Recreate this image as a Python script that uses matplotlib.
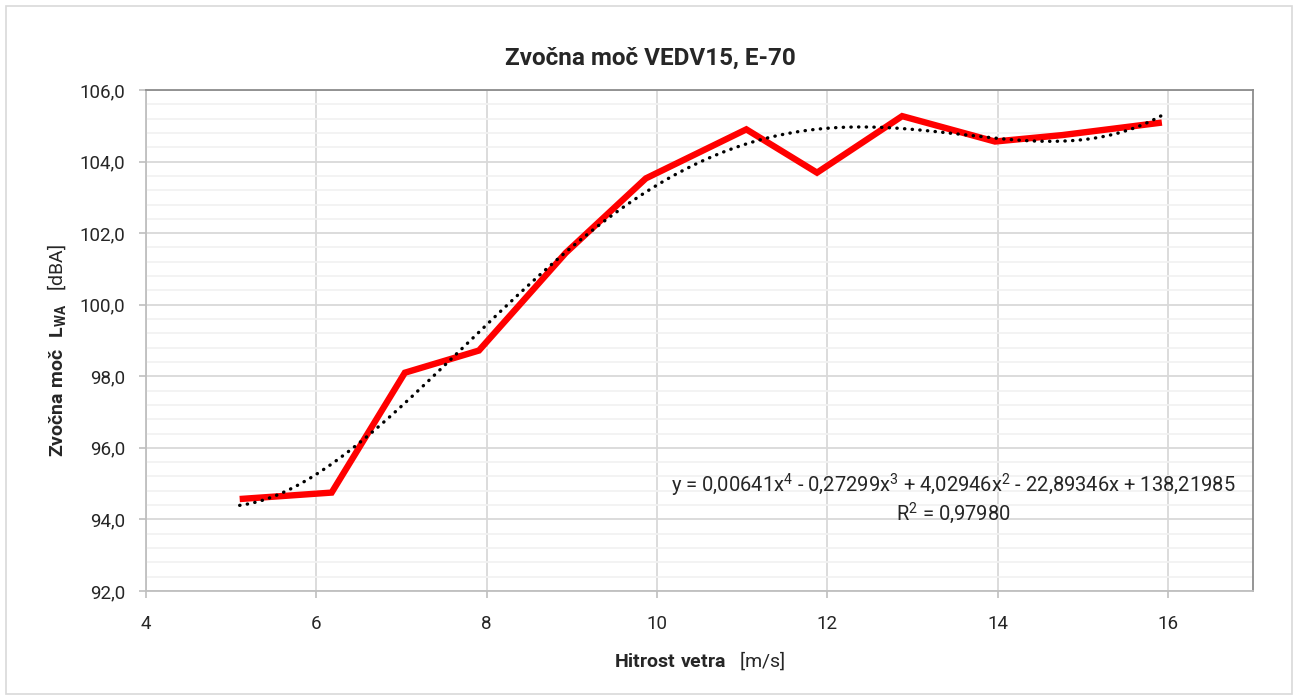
import numpy as np
import matplotlib
matplotlib.use("Agg")
import matplotlib.pyplot as plt
from matplotlib.ticker import MultipleLocator, FuncFormatter
from matplotlib.patches import Rectangle

plt.rcParams['font.family'] = ['Roboto', 'DejaVu Sans']
plt.rcParams['mathtext.fontset'] = 'custom'
plt.rcParams['mathtext.rm'] = 'Roboto'
plt.rcParams['mathtext.it'] = 'Roboto'
plt.rcParams['mathtext.bf'] = 'Roboto:bold'
plt.rcParams['mathtext.default'] = 'rm'

# Measured sound power vs. wind speed
wind_speed = [5.10, 6.18, 7.04, 7.91, 8.93, 9.87, 11.05, 11.88, 12.88, 13.97, 14.76, 15.93]
sound_power = [94.57, 94.75, 98.10, 98.72, 101.45, 103.53, 104.90, 103.69, 105.27, 104.56, 104.74, 105.09]

# 4th order polynomial trend (highest power first)
trend_coeffs = [0.00641, -0.27299, 4.02946, -22.89346, 138.21985]
r_squared = 0.97980

title = "Zvočna moč VEDV15, E-70"

fig = plt.figure(figsize=(12.98, 6.99), dpi=100)
ax = fig.add_axes([146 / 1298, 1 - 591 / 699, (1253 - 146) / 1298, (591 - 90) / 699])

# outer chart frame
fig.patches.append(Rectangle((6 / 1298, 1 - 694 / 699), 1286 / 1298, 688 / 699,
                             transform=fig.transFigure, fill=False,
                             edgecolor='#d9d9d9', linewidth=1.2))

ax.set_xlim(4, 17)
ax.set_ylim(92, 106)
ax.xaxis.set_major_locator(MultipleLocator(2))
ax.yaxis.set_major_locator(MultipleLocator(2))
ax.yaxis.set_minor_locator(MultipleLocator(0.4))
ax.yaxis.set_major_formatter(FuncFormatter(lambda v, p: f"{v:.1f}".replace('.', ',')))
ax.xaxis.set_major_formatter(FuncFormatter(lambda v, p: f"{v:g}"))

ax.grid(which='major', color='#d9d9d9', linewidth=1.3)
ax.grid(which='minor', axis='y', color='#f2f2f2', linewidth=1.3)
ax.set_axisbelow(True)

for side in ('left', 'bottom'):
    ax.spines[side].set_color('#bfbfbf')
    ax.spines[side].set_linewidth(1.3)
for side in ('top', 'right'):
    ax.spines[side].set_color('#8c8c8c')
    ax.spines[side].set_linewidth(1.3)

ax.tick_params(axis='both', which='major', length=5, width=1.2, color='#bfbfbf',
               labelsize=13.5, labelcolor='#262626')
ax.tick_params(axis='y', which='minor', length=0)
ax.tick_params(axis='x', pad=12)
ax.tick_params(axis='y', pad=10)

# trend line
xs = np.linspace(min(wind_speed), max(wind_speed), 300)
ax.plot(xs, np.polyval(trend_coeffs, xs), color='black', linewidth=2.4,
        linestyle=(0, (0.1, 2.2)), dash_capstyle='round', zorder=4)

ax.plot(wind_speed, sound_power, color='#ff0000', linewidth=4.6,
        solid_joinstyle='miter', solid_capstyle='butt', zorder=3)

eq = ("y = " + f"{trend_coeffs[0]:.5f}x$^4$ - {abs(trend_coeffs[1]):.5f}x$^3$ + "
      f"{trend_coeffs[2]:.5f}x$^2$ - {abs(trend_coeffs[3]):.5f}x + {trend_coeffs[4]:.5f}").replace('.', ',')
r2 = f"R$^2$ = {r_squared:.5f}".replace('.', ',')
fig.text(953 / 1298, 1 - 485 / 699, eq, ha='center', va='center', fontsize=14.5, color='#262626')
fig.text(953 / 1298, 1 - 513 / 699, r2, ha='center', va='center', fontsize=14.5, color='#262626')

fig.text(650 / 1298, 1 - 58 / 699, title, ha='center', va='center', fontsize=17.5,
         fontweight='bold', color='#262626')

fig.text(700 / 1298, 1 - 661 / 699, r"$\mathbf{Hitrost\ vetra}$   [m/s]", ha='center', va='center',
         fontsize=14, color='#262626')
fig.text(57 / 1298, 1 - 350 / 699, r"$\mathbf{Zvočna\ moč\ \ L}_{\mathbf{WA}}$   [dBA]",
         ha='center', va='center', rotation=90, fontsize=14, color='#262626')

fig.savefig("out.png", dpi=100)
